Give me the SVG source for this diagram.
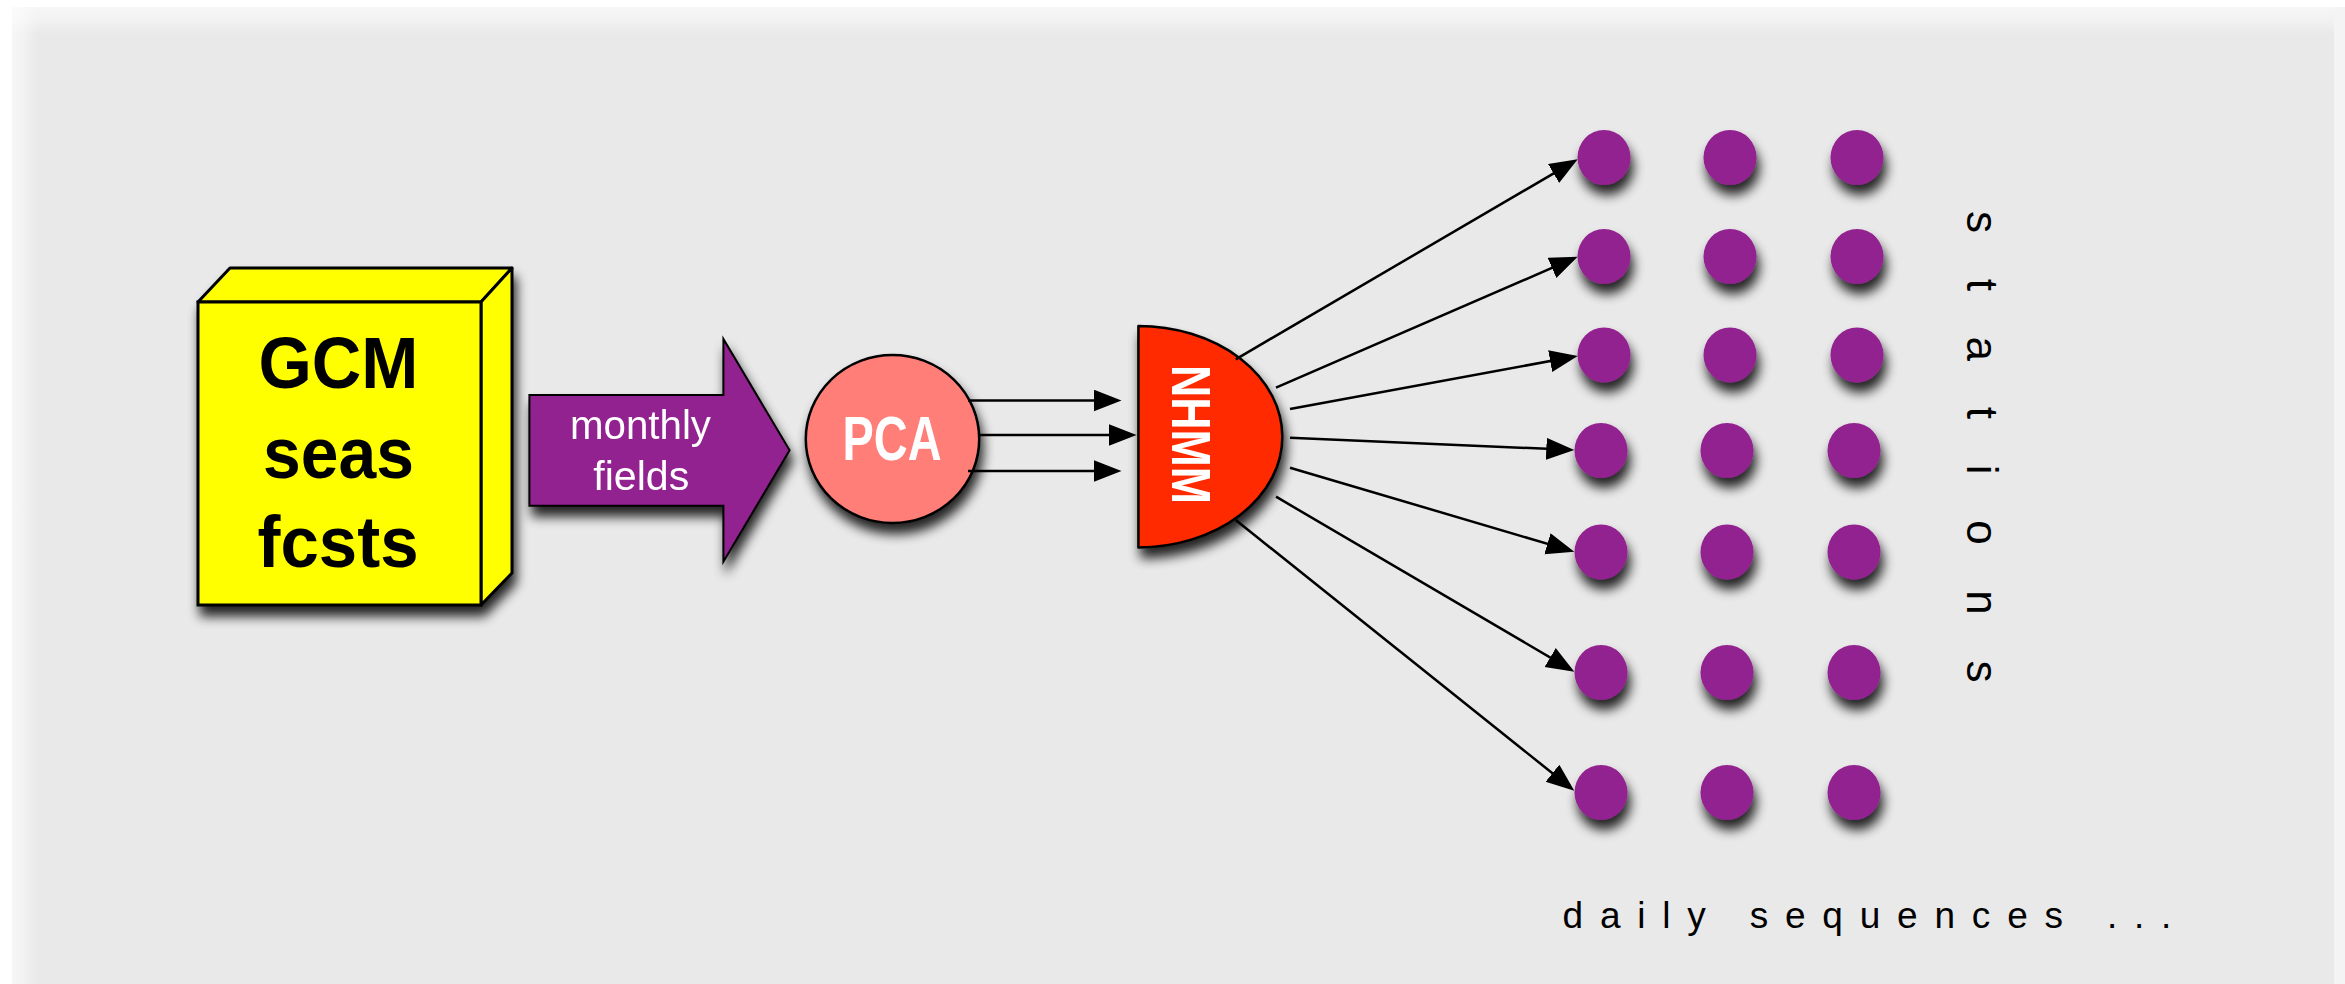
<svg xmlns="http://www.w3.org/2000/svg" width="2345" height="984" viewBox="0 0 2345 984">
<style>
.edge{stroke:#000;stroke-width:2.5;fill:none;marker-end:url(#ah)}
.dot{fill:#922090}
.lbl{font-family:"Liberation Sans",Arial,sans-serif}
</style>
<defs>
<marker id="ah" markerUnits="userSpaceOnUse" markerWidth="30" markerHeight="24" refX="18" refY="11" orient="auto">
<path d="M0,0 L28,11 L0,22 z" fill="#000"/>
</marker>
<filter id="sh" x="-30%" y="-30%" width="170%" height="180%">
<feGaussianBlur in="SourceAlpha" stdDeviation="6"/>
<feOffset dx="3" dy="10" result="b"/>
<feComponentTransfer><feFuncA type="linear" slope="0.85"/></feComponentTransfer>
<feMerge><feMergeNode/><feMergeNode in="SourceGraphic"/></feMerge>
</filter>
<linearGradient id="gt" x1="0" y1="0" x2="0" y2="1">
<stop offset="0" stop-color="#fff" stop-opacity="0.6"/>
<stop offset="0.4" stop-color="#fff" stop-opacity="0.45"/>
<stop offset="1" stop-color="#fff" stop-opacity="0"/>
</linearGradient>
<linearGradient id="gl" x1="0" y1="0" x2="1" y2="0">
<stop offset="0" stop-color="#fff" stop-opacity="0.6"/>
<stop offset="0.4" stop-color="#fff" stop-opacity="0.45"/>
<stop offset="1" stop-color="#fff" stop-opacity="0"/>
</linearGradient>
</defs>
<g id="background">
<rect x="0" y="0" width="2345" height="984" fill="#ffffff"/>
<rect x="2334" y="7" width="11" height="977" fill="#f4f4f4"/>
<rect x="12" y="7" width="2322" height="977" fill="#e9e9e9"/>
<rect x="12" y="7" width="2322" height="28" fill="url(#gt)"/>
<rect x="12" y="7" width="26" height="977" fill="url(#gl)"/>
</g>
<g id="gcm" filter="url(#sh)">
<polygon points="198,302 230,268 512,268 481,302" fill="#ffff00" stroke="#000" stroke-width="3" stroke-linejoin="round"/>
<polygon points="481,302 512,268 512,573 481,605" fill="#ffff00" stroke="#000" stroke-width="3" stroke-linejoin="round"/>
<rect x="198" y="302" width="283" height="303" fill="#ffff00" stroke="#000" stroke-width="3"/>
<g class="lbl" font-weight="bold" font-size="72" fill="#000" text-anchor="middle">
<text x="338.5" y="388" textLength="160" lengthAdjust="spacingAndGlyphs">GCM</text>
<text x="338.5" y="478" textLength="151" lengthAdjust="spacingAndGlyphs">seas</text>
<text x="338" y="567" textLength="161" lengthAdjust="spacingAndGlyphs">fcsts</text>
</g>
</g>
<g id="monthly-fields" filter="url(#sh)">
<polygon points="529.4,395 723.4,395 723.4,339 789.6,450.3 723.4,561.7 723.4,505.7 529.4,505.7" fill="#922090" stroke="#000" stroke-width="2" stroke-linejoin="miter"/>
<g class="lbl" font-size="40" fill="#fff" text-anchor="middle">
<text x="640.5" y="439" textLength="141" lengthAdjust="spacingAndGlyphs">monthly</text>
<text x="641.3" y="490" textLength="96" lengthAdjust="spacingAndGlyphs">fields</text>
</g>
</g>
<g id="pca" filter="url(#sh)">
<ellipse cx="892.5" cy="439" rx="86.7" ry="84" fill="#ff7f78" stroke="#000" stroke-width="2.5"/>
<text class="lbl" x="892" y="460" font-size="63" font-weight="bold" fill="#fff" text-anchor="middle" textLength="99" lengthAdjust="spacingAndGlyphs">PCA</text>
</g>
<g id="nhmm" filter="url(#sh)">
<path d="M1138.4,326 A144,110.7 0 0 1 1138.4,547.4 Z" fill="#ff2a00" stroke="#000" stroke-width="2.5" stroke-linejoin="round"/>
<text class="lbl" transform="translate(1172,434.5) rotate(90)" x="0" y="0" font-size="55" font-weight="bold" fill="#fff" text-anchor="middle" textLength="139" lengthAdjust="spacingAndGlyphs">NHMM</text>
</g>
<g id="connectors">
<line class="edge" x1="968" y1="400.5" x2="1111.5" y2="400.5"/>
<line class="edge" x1="979" y1="435" x2="1126.6" y2="435"/>
<line class="edge" x1="968" y1="471" x2="1111.5" y2="471"/>
<line class="edge" x1="1235.7" y1="359.3" x2="1569.1" y2="164.3"/>
<line class="edge" x1="1276" y1="387.7" x2="1568.5" y2="260.7"/>
<line class="edge" x1="1290" y1="409" x2="1567.9" y2="357.8"/>
<line class="edge" x1="1290" y1="437.7" x2="1564.3" y2="449.6"/>
<line class="edge" x1="1290" y1="467.7" x2="1564.7" y2="548.9"/>
<line class="edge" x1="1276" y1="496.7" x2="1565.7" y2="666.6"/>
<line class="edge" x1="1235.7" y1="520" x2="1566.5" y2="784.5"/>
</g>
<g id="stations-grid" filter="url(#sh)">
<g id="row1"><ellipse class="dot" cx="1604" cy="157.5" rx="26.5" ry="27.5"/><ellipse class="dot" cx="1730" cy="157.5" rx="26.5" ry="27.5"/><ellipse class="dot" cx="1857" cy="157.5" rx="26.5" ry="27.5"/></g>
<g id="row2"><ellipse class="dot" cx="1604" cy="256.5" rx="26.5" ry="27.5"/><ellipse class="dot" cx="1730" cy="256.5" rx="26.5" ry="27.5"/><ellipse class="dot" cx="1857" cy="256.5" rx="26.5" ry="27.5"/></g>
<g id="row3"><ellipse class="dot" cx="1604" cy="355" rx="26.5" ry="27.5"/><ellipse class="dot" cx="1730" cy="355" rx="26.5" ry="27.5"/><ellipse class="dot" cx="1857" cy="355" rx="26.5" ry="27.5"/></g>
<g id="row4"><ellipse class="dot" cx="1601" cy="450.5" rx="26.5" ry="27.5"/><ellipse class="dot" cx="1727" cy="450.5" rx="26.5" ry="27.5"/><ellipse class="dot" cx="1854" cy="450.5" rx="26.5" ry="27.5"/></g>
<g id="row5"><ellipse class="dot" cx="1601" cy="552" rx="26.5" ry="27.5"/><ellipse class="dot" cx="1727" cy="552" rx="26.5" ry="27.5"/><ellipse class="dot" cx="1854" cy="552" rx="26.5" ry="27.5"/></g>
<g id="row6"><ellipse class="dot" cx="1601" cy="672.5" rx="26.5" ry="27.5"/><ellipse class="dot" cx="1727" cy="672.5" rx="26.5" ry="27.5"/><ellipse class="dot" cx="1854" cy="672.5" rx="26.5" ry="27.5"/></g>
<g id="row7"><ellipse class="dot" cx="1601" cy="792.5" rx="26.5" ry="27.5"/><ellipse class="dot" cx="1727" cy="792.5" rx="26.5" ry="27.5"/><ellipse class="dot" cx="1854" cy="792.5" rx="26.5" ry="27.5"/></g>
</g>
<g id="labels" class="lbl" fill="#000">
<text id="stations" transform="translate(1967,211) rotate(90)" x="0" y="0" font-size="44" letter-spacing="45.7">stations</text>
<text id="daily" x="1562.5" y="928" font-size="37" letter-spacing="16.8">daily sequences ...</text>
</g>
</svg>
